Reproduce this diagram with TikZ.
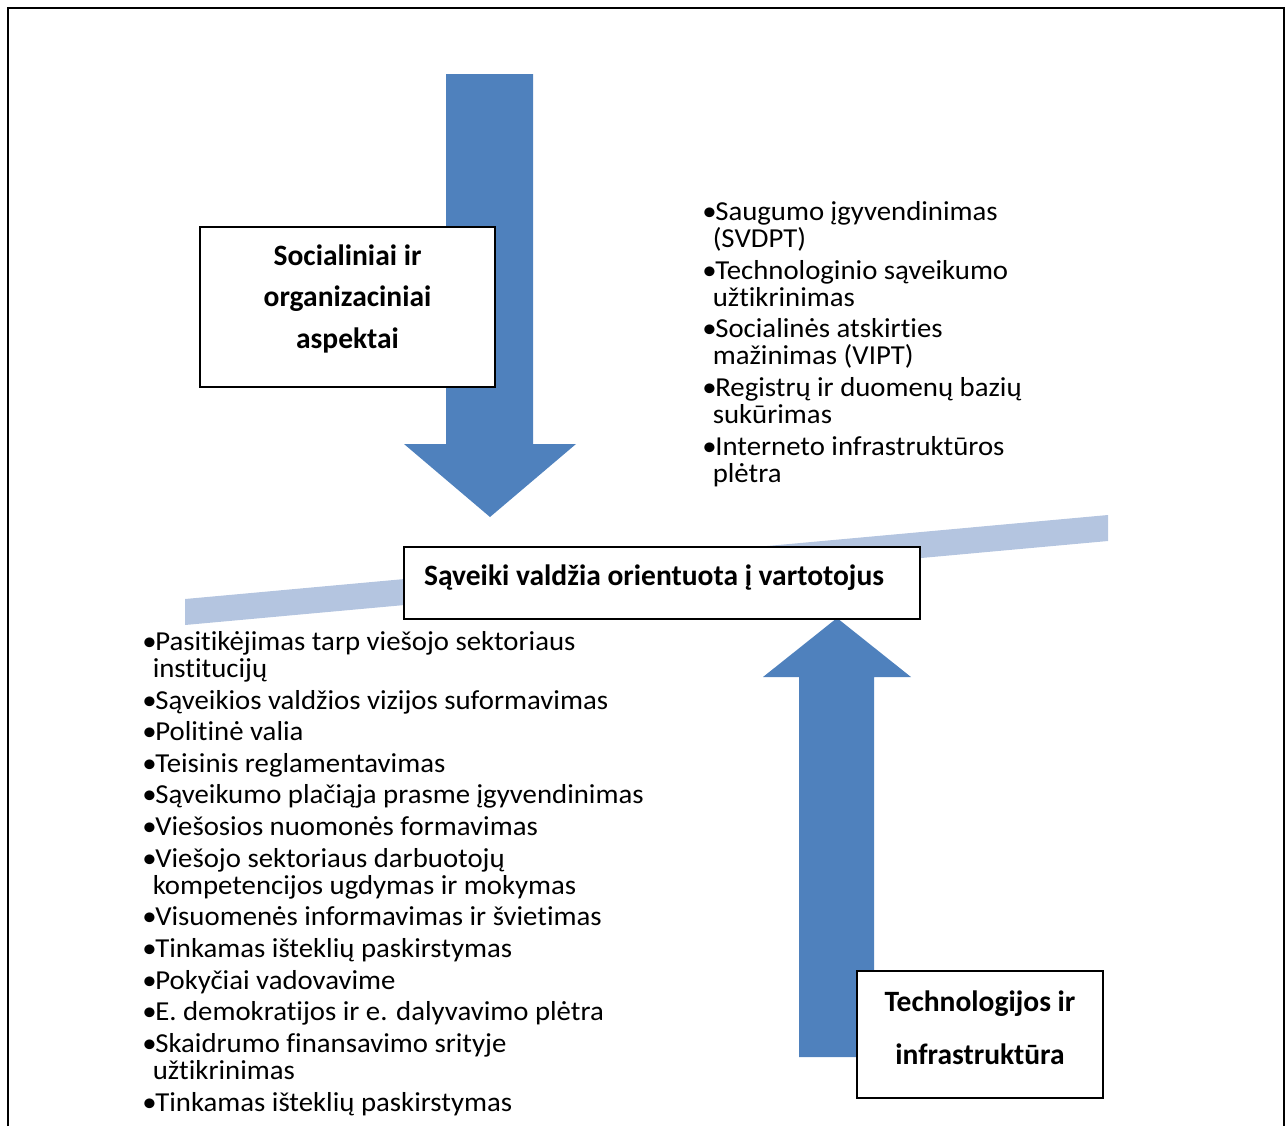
\documentclass[tikz,border=0pt]{standalone}
\usepackage{fontspec}
\setmainfont[Ligatures=CommonOff]{Carlito}
\newfontfamily\listfont[Ligatures=CommonOff, FakeStretch=1.05]{Carlito}
\usetikzlibrary{positioning}
\definecolor{arrowblue}{RGB}{79,129,189}
\definecolor{barblue}{RGB}{180,197,224}
\newcommand{\itm}{\textbullet\hspace{-0.05em}}
\newcommand{\cont}{\hspace*{0.38em}}

\begin{document}
\begin{tikzpicture}[x=0.02cm, y=-0.02cm,
  bigarrow/.style={fill=arrowblue, draw=none},
  aspect/.style={draw=black, line width=1.1pt, fill=white, align=center,
                 font=\bfseries\fontsize{16.8}{23.6}\selectfont},
  items/.style={anchor=north west, inner sep=0pt, align=left,
                font=\listfont\fontsize{15.6}{15.4}\selectfont}
]
\useasboundingbox (0,0) rectangle (1288,1126);

% Frame (open at the bottom)
\draw[line width=1.3pt] (8,1126) -- (8,8) -- (1284,8) -- (1284,1126);

% Slanted band behind the centre box
\fill[barblue] (185,599) -- (1108,515) -- (1108,541) -- (185,625) -- cycle;

% Block arrows
\fill[bigarrow] (446,74) -- (533,74) -- (533,444) -- (576,444) -- (490,517)
  -- (404,444) -- (446,444) -- cycle;
\fill[bigarrow] (799,1057) -- (874,1057) -- (874,677) -- (911,677) -- (837,618)
  -- (763,677) -- (799,677) -- cycle;

% Boxes
\node[aspect, minimum width=5.9cm, minimum height=3.2cm, text depth=12pt]
  (social) at (347.5,307) {Socialiniai ir\\organizaciniai\\aspektai};
\node[aspect, minimum width=10.32cm, minimum height=1.44cm, text depth=9pt]
  (centre) at (662,583) {Sąveiki valdžia orientuota į vartotojus\hspace*{0.32cm}};
\node[aspect, minimum width=4.92cm, minimum height=2.54cm, text depth=8pt,
      font=\bfseries\fontsize{16.8}{30.2}\selectfont]
  (tech) at (980,1034.5) {Technologijos ir\\infrastruktūra};

% Item lists
\node[items] (techlist) at (702,201)
  {\itm Saugumo įgyvendinimas\\
   \cont(SVDPT)\\[2.6pt]
   \itm Technologinio sąveikumo\\
   \cont užtikrinimas\\[2.6pt]
   \itm Socialinės atskirties\\
   \cont mažinimas (VIPT)\\[2.6pt]
   \itm Registrų ir duomenų bazių\\
   \cont sukūrimas\\[2.6pt]
   \itm Interneto infrastruktūros\\
   \cont plėtra};
\node[items] (sociallist) at (142,631)
  {\itm Pasitikėjimas tarp viešojo sektoriaus\\
   \cont institucijų\\[2.6pt]
   \itm Sąveikios valdžios vizijos suformavimas\\[2.6pt]
   \itm Politinė valia\\[2.6pt]
   \itm Teisinis reglamentavimas\\[2.6pt]
   \itm Sąveikumo plačiąja prasme įgyvendinimas\\[2.6pt]
   \itm Viešosios nuomonės formavimas\\[2.6pt]
   \itm Viešojo sektoriaus darbuotojų\\
   \cont kompetencijos ugdymas ir mokymas\\[2.6pt]
   \itm Visuomenės informavimas ir švietimas\\[2.6pt]
   \itm Tinkamas išteklių paskirstymas\\[2.6pt]
   \itm Pokyčiai vadovavime\\[2.6pt]
   \itm E. demokratijos ir e. dalyvavimo plėtra\\[2.6pt]
   \itm Skaidrumo finansavimo srityje\\
   \cont užtikrinimas\\[2.6pt]
   \itm Tinkamas išteklių paskirstymas};

\end{tikzpicture}
\end{document}
